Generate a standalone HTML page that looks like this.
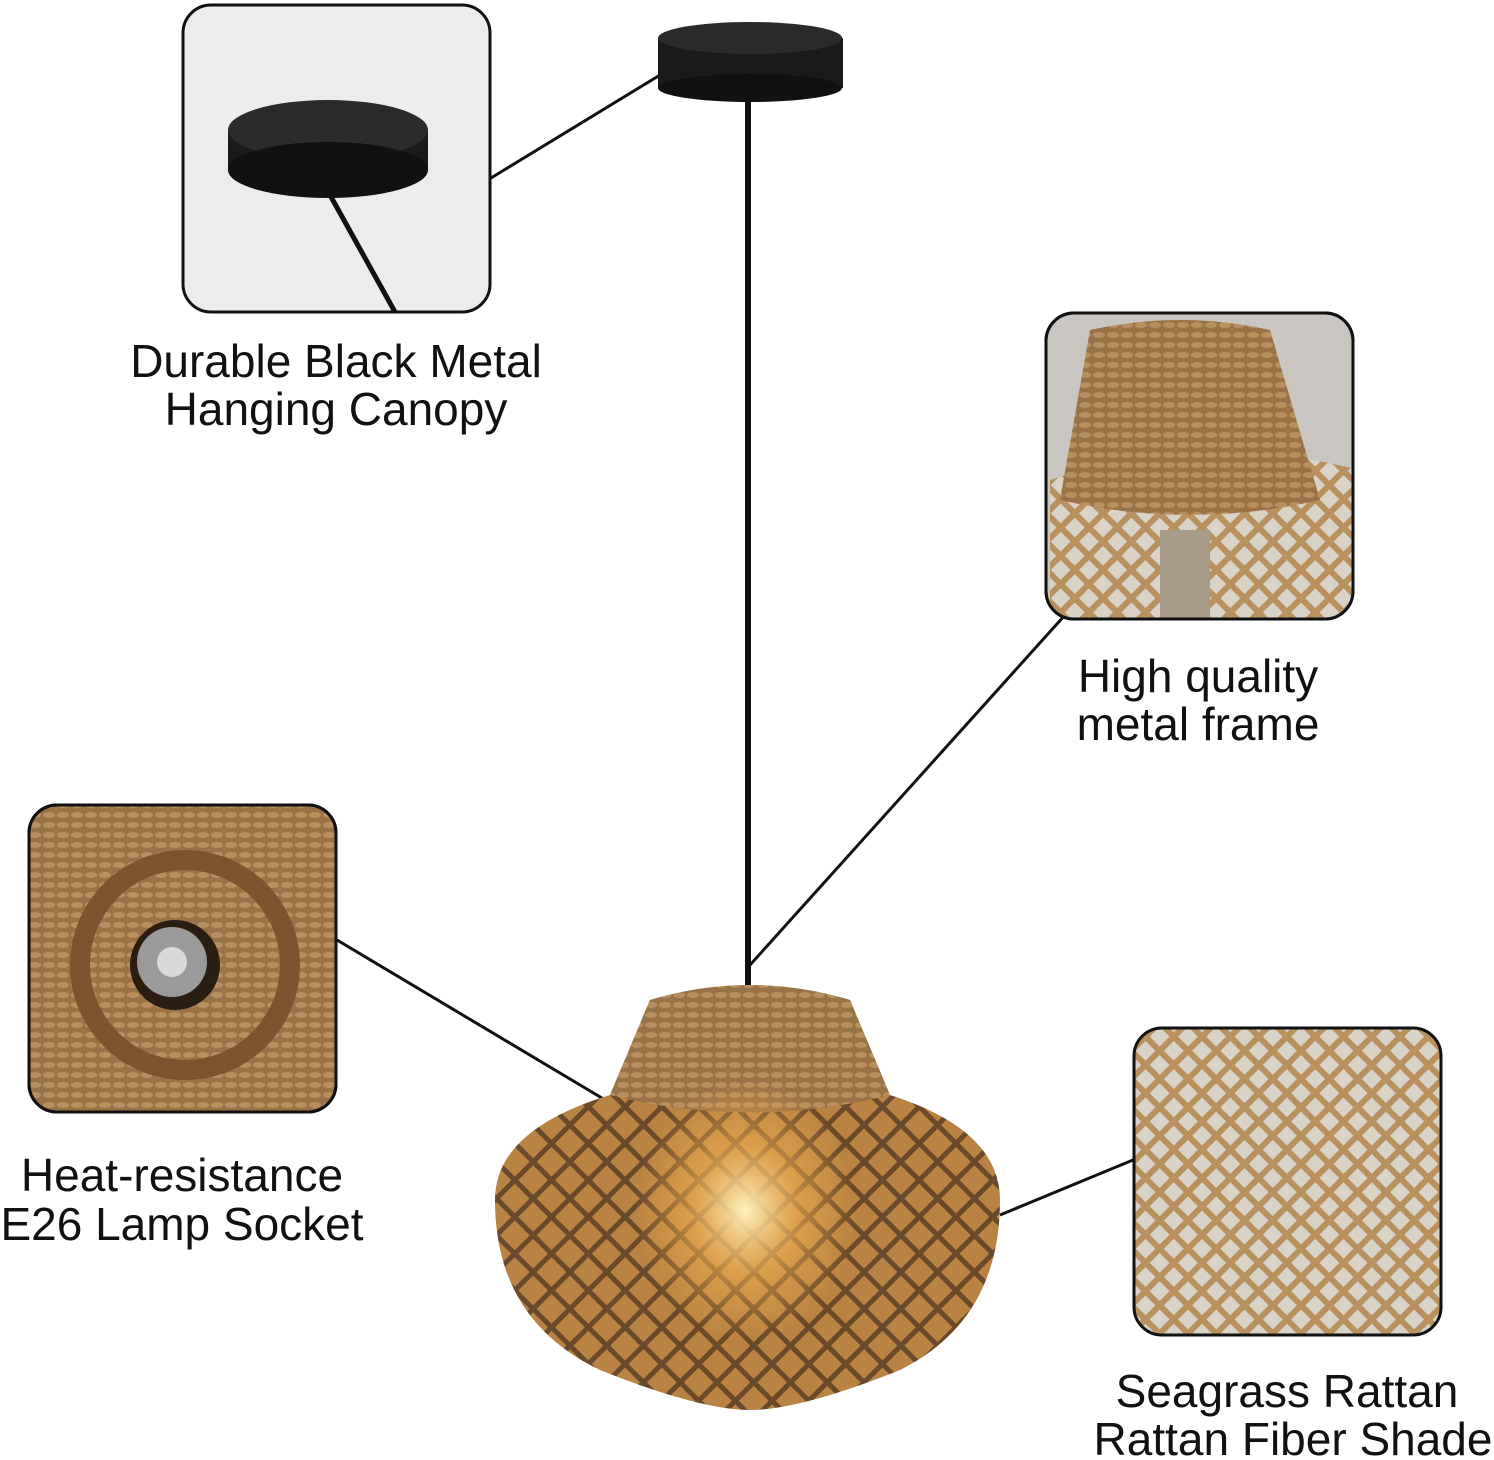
<!DOCTYPE html>
<html><head><meta charset="utf-8"><style>
html,body{margin:0;padding:0;background:#fff;}
svg{display:block}
text{font-family:"Liberation Sans",sans-serif;font-size:46px;fill:#111;text-anchor:middle}
</style></head><body>
<svg width="1494" height="1460" viewBox="0 0 1494 1460" xmlns="http://www.w3.org/2000/svg">
<defs>
<pattern id="mesh" width="26" height="26" patternUnits="userSpaceOnUse" patternTransform="rotate(45)">
<rect width="26" height="26" fill="#b98443"/>
<rect width="26" height="5" fill="#6a4a2a"/><rect width="5" height="26" fill="#6a4a2a"/>
</pattern>
<pattern id="weave" width="14" height="10" patternUnits="userSpaceOnUse">
<rect width="14" height="10" fill="#9a7248"/>
<ellipse cx="7" cy="5" rx="6" ry="3" fill="#b8905f"/>
</pattern>
<pattern id="fine" width="20" height="20" patternUnits="userSpaceOnUse" patternTransform="rotate(45)">
<rect width="20" height="20" fill="#d9d2c6"/>
<rect width="20" height="6" fill="#b8915e"/><rect width="6" height="20" fill="#b8915e"/>
</pattern>
<radialGradient id="glow" cx="0.5" cy="0.5" r="0.5">
<stop offset="0" stop-color="#fff2c0"/><stop offset="0.5" stop-color="#f0b050" stop-opacity="0.6"/><stop offset="1" stop-color="#f0b050" stop-opacity="0"/>
</radialGradient>
<clipPath id="c1"><rect x="183" y="5" width="307" height="307" rx="28"/></clipPath>
<clipPath id="c2"><rect x="1046" y="313" width="307" height="306" rx="28"/></clipPath>
<clipPath id="c3"><rect x="29" y="805" width="307" height="307" rx="28"/></clipPath>
</defs>

<g stroke="#111" stroke-width="3" fill="none">
<line x1="491" y1="178" x2="660" y2="75"/>
<line x1="1065" y1="615" x2="750" y2="965"/>
<line x1="337" y1="940" x2="622" y2="1110"/>
<line x1="1000" y1="1215" x2="1133" y2="1160"/>
</g>

<rect x="658" y="38" width="185" height="50" fill="#1a1a1a"/>
<ellipse cx="750" cy="38" rx="92" ry="16" fill="#2a2a2a"/>
<ellipse cx="750" cy="88" rx="92" ry="14" fill="#111"/>
<rect x="745" y="95" width="6" height="890" fill="#111"/>

<path d="M650 1000 Q750 970 850 1000 L890 1095 Q1000 1130 1000 1200 Q1000 1320 900 1370 Q800 1410 750 1410 Q700 1410 600 1370 Q495 1320 495 1200 Q495 1130 610 1095 Z" fill="url(#mesh)"/>
<path d="M650 1000 Q750 970 850 1000 L890 1095 Q750 1130 610 1095 Z" fill="url(#weave)"/>
<ellipse cx="745" cy="1210" rx="110" ry="130" fill="url(#glow)"/>

<rect x="183" y="5" width="307" height="307" rx="28" fill="#ececec" stroke="#111" stroke-width="3"/>
<g clip-path="url(#c1)">
<rect x="228" y="130" width="200" height="40" fill="#1a1a1a"/>
<ellipse cx="328" cy="130" rx="100" ry="30" fill="#2b2b2b"/>
<ellipse cx="328" cy="170" rx="100" ry="28" fill="#111"/>
<line x1="330" y1="195" x2="395" y2="312" stroke="#111" stroke-width="5"/>
</g>
<text x="336" y="377">Durable Black Metal</text>
<text x="336" y="425">Hanging Canopy</text>

<rect x="1046" y="313" width="307" height="306" rx="28" fill="#c9c6c2" stroke="#111" stroke-width="3"/>
<g clip-path="url(#c2)">
<path d="M1050 480 Q1200 430 1360 470 L1360 620 L1050 620 Z" fill="url(#fine)"/>
<path d="M1090 330 Q1180 310 1270 330 L1320 500 Q1190 530 1060 500 Z" fill="url(#weave)"/>
<rect x="1160" y="530" width="50" height="90" fill="#a89c88"/>
</g>
<rect x="1046" y="313" width="307" height="306" rx="28" fill="none" stroke="#111" stroke-width="3"/>
<text x="1198" y="692">High quality</text>
<text x="1198" y="740">metal frame</text>

<rect x="29" y="805" width="307" height="307" rx="28" fill="url(#weave)" stroke="#111" stroke-width="3"/>
<g clip-path="url(#c3)">
<circle cx="185" cy="965" r="115" fill="#7a5530"/>
<circle cx="185" cy="965" r="95" fill="url(#weave)"/>
<circle cx="175" cy="965" r="45" fill="#2a1e12"/>
<circle cx="172" cy="962" r="35" fill="#9a9a9a"/>
<circle cx="172" cy="962" r="15" fill="#d8d8d8"/>
</g>
<rect x="29" y="805" width="307" height="307" rx="28" fill="none" stroke="#111" stroke-width="3"/>
<text x="182" y="1191">Heat-resistance</text>
<text x="182" y="1240">E26 Lamp Socket</text>

<rect x="1134" y="1028" width="307" height="307" rx="28" fill="url(#fine)" stroke="#111" stroke-width="3"/>
<text x="1287" y="1407">Seagrass Rattan</text>
<text x="1293" y="1455">Rattan Fiber Shade</text>
</svg>
</body></html>
